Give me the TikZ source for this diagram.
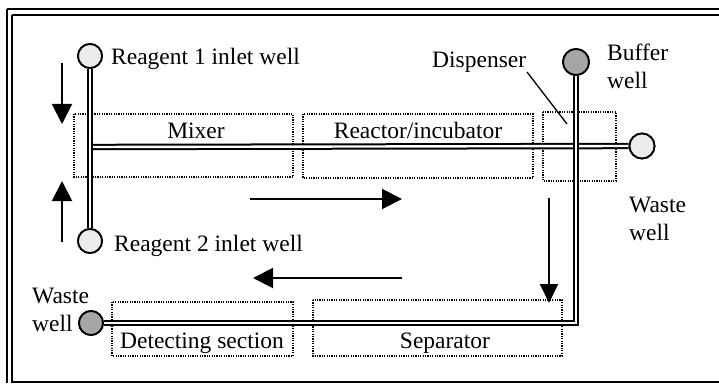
\documentclass[tikz,border=0pt]{standalone}
\usepackage{fontspec}
\setmainfont{Liberation Serif}
\usetikzlibrary{arrows.meta}
\begin{document}
\begin{tikzpicture}[x=1pt,y=-1pt,
  lbl/.style={inner sep=0pt,font=\fontsize{23.5}{26}\selectfont},
  well/.style={circle,draw=black,line width=1.8pt,minimum size=24pt,inner sep=0pt},
  lightwell/.style={well,fill=gray!15},
  darkwell/.style={well,fill=gray!70},
  channel/.style={draw=black,line width=2pt,double=white,double distance=2.4pt},
  zone/.style={draw=black,line width=1.3pt,dash pattern=on 1.2pt off 1.2pt},
  flow/.style={line width=2pt,-{Triangle[length=20pt,width=20pt]}},
  frameline/.style={line width=1.5pt}
]
\useasboundingbox (0,0) rectangle (719,385);
\clip (0,0) rectangle (719,385);
\fill[white] (0,0) rectangle (719,385);
% frame
\draw[frameline] (7,9) -- (730,9);
\draw[frameline] (7,9) -- (7,383);
\draw[frameline] (12,15) -- (730,15);
\draw[frameline] (12,15) -- (12,383);
\draw[frameline] (12,382) -- (730,382);

% dotted zones
\draw[zone] (74,114) rectangle (293,177);
\draw[zone] (303,114) rectangle (533,178);
\draw[zone] (543,112) rectangle (616,181);
\draw[zone] (112,302) rectangle (293,356);
\draw[zone] (313,300) rectangle (562,356);

% coordinates
\coordinate (jL) at (89,147);
\coordinate (corner) at (576,323);

% wells (positions)
\node[lightwell] (r1) at (90,56) {};
\node[lightwell] (r2) at (90,241) {};
\node[lightwell,minimum size=25pt] (wR) at (642,146) {};
\node[darkwell,minimum size=26pt] (buf) at (576,62) {};
\node[darkwell] (wL) at (91,323) {};

% channels
\draw[channel] (jL) -- (wR.west);
\draw[channel] (r1.south) -- (r2.north);
\draw[channel] (buf.south) -- (corner) -- (wL.east);

% redraw wells on top
\node[lightwell] at (90,56) {};
\node[lightwell] at (90,241) {};
\node[lightwell,minimum size=25pt] at (642,146) {};
\node[darkwell,minimum size=26pt] at (576,62) {};
\node[darkwell] at (91,323) {};

% labels
\node[lbl,anchor=base west] (t1) at (111,65) {Reagent 1 inlet well};
\node[lbl,anchor=base west] (t2) at (114,251) {Reagent 2 inlet well};
\node[lbl,anchor=base] (tmix) at (196,138) {Mixer};
\node[lbl,anchor=base] (treact) at (418,138) {Reactor/incubator};
\node[lbl,anchor=base west] (tdisp) at (432,68) {Dispenser};
\node[lbl,anchor=base west] (tbuf1) at (607,61) {Buffer};
\node[lbl,anchor=base west] (tbuf2) at (607,89) {well};
\node[lbl,anchor=base west] (tw1) at (629,212) {Waste};
\node[lbl,anchor=base west] (tw2) at (629,240) {well};
\node[lbl,anchor=base west] (tl1) at (32,303) {Waste};
\node[lbl,anchor=base west] (tl2) at (32,331) {well};
\node[lbl,anchor=base] (tdet) at (202,348) {Detecting section};
\node[lbl,anchor=base] (tsep) at (445,348) {Separator};

% dispenser leader
\coordinate (dl1) at (527,72);
\coordinate (dl2) at (567,124);
\draw[line width=1.3pt] (dl1) -- (dl2);

% flow arrows
\coordinate (a1s) at (62,63);   \coordinate (a1e) at (62,124);
\coordinate (a2s) at (62,242);  \coordinate (a2e) at (62,181);
\coordinate (a3s) at (250,199); \coordinate (a3e) at (402,199);
\coordinate (a4s) at (402,278); \coordinate (a4e) at (253,278);
\coordinate (a5s) at (549,198); \coordinate (a5e) at (549,303);
\draw[flow] (a1s) -- (a1e);
\draw[flow] (a2s) -- (a2e);
\draw[flow] (a3s) -- (a3e);
\draw[flow] (a4s) -- (a4e);
\draw[flow,-{Triangle[length=19pt,width=18pt]}] (a5s) -- (a5e);
\end{tikzpicture}
\end{document}
